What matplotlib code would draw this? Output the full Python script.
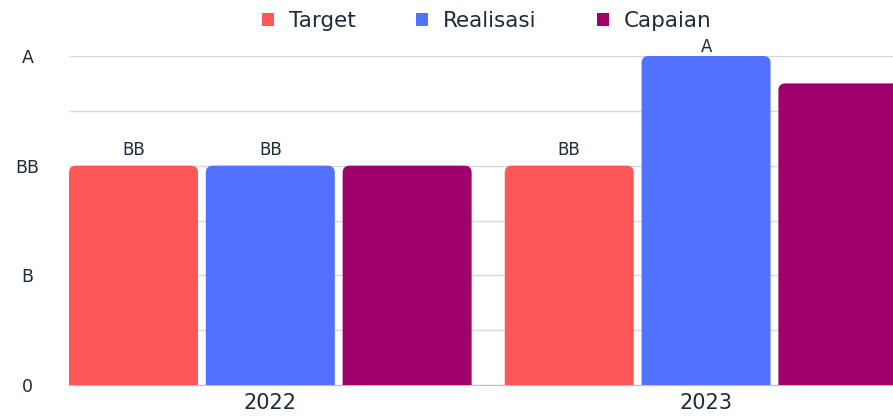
import matplotlib.pyplot as plt
from matplotlib.patches import FancyBboxPatch, Patch
import numpy as np

years = ['2022', '2023']
series = ['Target', 'Realisasi', 'Capaian']
target = [2, 2]
realisasi = [2, 3]
capaian = [2, 2.75]
labels_target = ['BB', 'BB']
labels_realisasi = ['BB', 'A']
colors = ['#ff5757', '#5271ff', '#a0006b']
ytick_vals = [0, 1, 2, 3]
ytick_labels = ['0', 'B', 'BB', 'A']

plt.rcParams['font.family'] = ['DejaVu Sans']
txt = '#1d2b3a'

fig = plt.figure(figsize=(8.93, 4.16), dpi=100)
# axes runs past the right edge, like the original
ax = fig.add_axes([69 / 893, 31 / 416, (893 - 69) / 893, 329 / 416])

x = np.arange(len(years))
pitch = 0.314
width = 0.296
values = [target, realisasi, capaian]
bars = []
for i, (name, vals) in enumerate(zip(series, values)):
    b = ax.bar(x + (i - 1) * pitch, vals, width, color=colors[i], label=name, zorder=3)
    bars.append(b)

# rounded tops: swap each rect for a rounded patch (bottom pushed below 0 so it stays square)
aspect = (3 / 329) / (1 / 436)
for b, c in zip(bars, colors):
    for rect in b:
        rect.set_visible(False)
        p = FancyBboxPatch((rect.get_x(), -0.2), rect.get_width(), rect.get_height() + 0.2,
                           boxstyle='round,pad=0,rounding_size=0.016', mutation_aspect=aspect,
                           facecolor=c, edgecolor='none', zorder=3)
        ax.add_patch(p)

def put_label(rect, lab, off):
    ax.annotate(lab, (rect.get_x() + rect.get_width() / 2, rect.get_height()),
                xytext=(0, off), textcoords='offset points', ha='center', va='bottom',
                fontsize=12, color=txt, annotation_clip=False)

for rect, lab in zip(bars[0], labels_target):
    put_label(rect, lab, 5)
for rect, lab in zip(bars[1], labels_realisasi):
    put_label(rect, lab, 0 if lab == 'A' else 5)

ax.set_xlim(-0.462, 1.429)
ax.set_ylim(0, 3)
ax.set_yticks(ytick_vals)
ax.set_yticklabels(ytick_labels)
ax.set_yticks(np.arange(0, 3.01, 0.5), minor=True)
ax.set_xticks(x)
ax.set_xticklabels(years)
ax.grid(axis='y', which='both', color='#d5d9dd', linewidth=1, zorder=0)
ax.tick_params(axis='both', which='both', length=0, labelsize=12.5, colors=txt)
ax.tick_params(axis='y', pad=30)
for lab in ax.get_yticklabels():
    lab.set_horizontalalignment('center')
ax.tick_params(axis='x', pad=6, labelsize=15)
for s in ['top', 'right', 'left']:
    ax.spines[s].set_visible(False)
ax.spines['bottom'].set_color('#b8bfc6')

handles = [Patch(facecolor=c, label=n) for n, c in zip(series, colors)]
fig.legend(handles=handles, loc='upper center', bbox_to_anchor=(0.545, 1.02), ncol=3,
           frameon=False, fontsize=15.5, handlelength=0.55, handleheight=0.55,
           columnspacing=2.8, handletextpad=0.7, labelcolor=txt)

fig.savefig('out.png', dpi=100)
